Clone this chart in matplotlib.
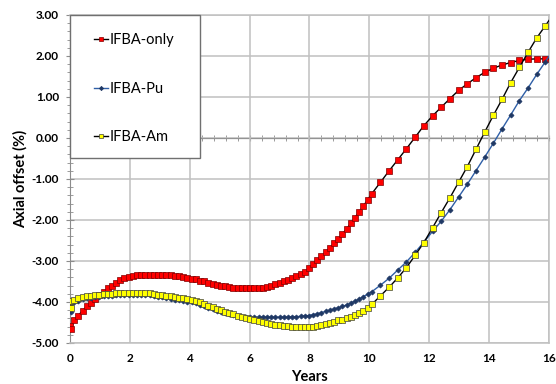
import matplotlib
matplotlib.use("Agg")
import matplotlib.pyplot as plt
from matplotlib.patches import Rectangle
from matplotlib.ticker import MultipleLocator, FormatStrFormatter

plt.rcParams['font.family'] = ['Lato', 'DejaVu Sans']

# burnup steps in years (fine steps up to ~10 y, coarse steps after)
years = [0.00, 0.04,
         0.14, 0.28, 0.42, 0.56, 0.70, 0.84, 0.98, 1.12, 1.26, 1.40,
         1.54, 1.68, 1.82, 1.96, 2.10, 2.24, 2.38, 2.52, 2.66, 2.80,
         2.94, 3.08, 3.22, 3.36, 3.50, 3.64, 3.78, 3.92, 4.06, 4.20,
         4.34, 4.48, 4.62, 4.76, 4.90, 5.04, 5.18, 5.32, 5.46, 5.60,
         5.74, 5.88, 6.02, 6.16, 6.30, 6.44, 6.58, 6.72, 6.86, 7.00,
         7.14, 7.28, 7.42, 7.56, 7.70, 7.84, 7.98, 8.12, 8.26, 8.40,
         8.54, 8.68, 8.82, 8.96, 9.10, 9.24, 9.38, 9.52, 9.66, 9.80,
         9.94, 10.08,
         10.37, 10.66, 10.95, 11.24, 11.53, 11.82, 12.11, 12.40, 12.69, 12.98,
         13.27, 13.56, 13.85, 14.14, 14.43, 14.72, 15.01, 15.30, 15.59, 15.88,
         16.17]

ifba_only = [-4.58, -4.66,
             -4.45, -4.33, -4.21, -4.11, -4.02, -3.92, -3.84, -3.75, -3.67, -3.60,
             -3.53, -3.47, -3.42, -3.39, -3.37, -3.35, -3.34, -3.33, -3.33, -3.33,
             -3.33, -3.33, -3.34, -3.34, -3.36, -3.37, -3.39, -3.41, -3.43, -3.45,
             -3.48, -3.50, -3.53, -3.55, -3.58, -3.60, -3.62, -3.64, -3.65, -3.66,
             -3.67, -3.67, -3.67, -3.67, -3.66, -3.65, -3.63, -3.60, -3.57, -3.54,
             -3.50, -3.47, -3.42, -3.37, -3.32, -3.26, -3.18, -3.08, -2.98, -2.88,
             -2.78, -2.68, -2.57, -2.46, -2.34, -2.22, -2.08, -1.94, -1.80, -1.66,
             -1.51, -1.36,
             -1.08, -0.80, -0.53, -0.26, 0.02, 0.30, 0.54, 0.75, 0.96, 1.16,
             1.32, 1.47, 1.60, 1.70, 1.78, 1.84, 1.89, 1.92, 1.93, 1.93,
             1.92]

ifba_pu = [-4.00, -4.24,
           -4.01, -3.97, -3.93, -3.91, -3.90, -3.89, -3.88, -3.86, -3.85, -3.85,
           -3.84, -3.83, -3.83, -3.82, -3.82, -3.82, -3.82, -3.83, -3.84, -3.85,
           -3.87, -3.88, -3.90, -3.92, -3.94, -3.96, -3.97, -3.99, -4.00, -4.03,
           -4.07, -4.10, -4.14, -4.17, -4.21, -4.24, -4.27, -4.30, -4.32, -4.34,
           -4.36, -4.37, -4.37, -4.37, -4.37, -4.37, -4.37, -4.37, -4.37, -4.37,
           -4.37, -4.37, -4.36, -4.36, -4.35, -4.34, -4.33, -4.31, -4.29, -4.26,
           -4.23, -4.20, -4.17, -4.14, -4.11, -4.07, -4.03, -3.98, -3.93, -3.87,
           -3.81, -3.75,
           -3.59, -3.42, -3.22, -3.02, -2.79, -2.54, -2.28, -2.03, -1.75, -1.44,
           -1.13, -0.80, -0.47, -0.13, 0.22, 0.56, 0.91, 1.22, 1.55, 1.86,
           2.18]

ifba_am = [-3.98, -4.15,
           -3.95, -3.91, -3.88, -3.86, -3.85, -3.84, -3.83, -3.81, -3.80, -3.80,
           -3.79, -3.78, -3.78, -3.77, -3.77, -3.77, -3.77, -3.78, -3.79, -3.80,
           -3.82, -3.83, -3.85, -3.86, -3.88, -3.90, -3.91, -3.93, -3.94, -3.97,
           -4.01, -4.05, -4.09, -4.13, -4.17, -4.20, -4.24, -4.27, -4.30, -4.34,
           -4.37, -4.40, -4.42, -4.45, -4.47, -4.50, -4.52, -4.54, -4.55, -4.57,
           -4.58, -4.59, -4.60, -4.61, -4.61, -4.61, -4.60, -4.60, -4.58, -4.56,
           -4.54, -4.51, -4.48, -4.45, -4.43, -4.40, -4.36, -4.31, -4.26, -4.21,
           -4.14, -4.06,
           -3.85, -3.64, -3.41, -3.16, -2.86, -2.55, -2.19, -1.82, -1.46, -1.08,
           -0.70, -0.28, 0.14, 0.55, 0.94, 1.35, 1.72, 2.09, 2.44, 2.74,
           3.04]

fig = plt.figure(figsize=(5.56, 3.84), dpi=100)
ax = fig.add_axes([0.1259, 0.1068, 0.8615, 0.8542])

grid_c = '#c0c0c0'
ax.set_xlim(0, 16)
ax.set_ylim(-5, 3)
ax.xaxis.set_major_locator(MultipleLocator(2))
ax.yaxis.set_major_locator(MultipleLocator(1))
ax.yaxis.set_minor_locator(MultipleLocator(0.2))
ax.yaxis.set_major_formatter(FormatStrFormatter('%.2f'))
ax.grid(True, which='major', color=grid_c, lw=1.1, zorder=0)
ax.set_axisbelow(True)
for s in ['top', 'right', 'bottom']:
    ax.spines[s].set_color(grid_c)
    ax.spines[s].set_linewidth(1.1)
ax.spines['left'].set_color('#8c8c8c')
ax.tick_params(axis='x', length=0, pad=7, labelsize=8.5)
ax.tick_params(axis='y', which='major', direction='inout', length=6,
               color='#8c8c8c', labelsize=8.5, pad=5)
ax.tick_params(axis='y', which='minor', direction='inout', length=4,
               color='#8c8c8c')
for lab in ax.get_xticklabels() + ax.get_yticklabels():
    lab.set_fontweight('bold')

# horizontal axis line crossing at zero
zero_ax = ax.secondary_xaxis(5 / 8)
zero_ax.xaxis.set_major_locator(MultipleLocator(2))
zero_ax.xaxis.set_minor_locator(MultipleLocator(0.4))
zero_ax.tick_params(which='both', direction='inout', length=4,
                    color='#8c8c8c', labelbottom=False, labeltop=False)
zero_ax.spines['bottom'].set_color('#8c8c8c')

ax.plot(years, ifba_only, color='black', lw=1, marker='s', ms=4,
        mfc='#ff0000', mec='#800000', mew=0.5, label='IFBA-only', zorder=3)
ax.plot(years, ifba_pu, color='#2f5fa7', lw=1, marker='D', ms=2.6,
        mfc='#1f3864', mec='#1f3864', mew=0.5, label='IFBA-Pu', zorder=3)
ax.plot(years, ifba_am, color='black', lw=1, marker='s', ms=4,
        mfc='#ffff00', mec='#404040', mew=0.5, label='IFBA-Am', zorder=3)

ax.set_xlabel('Years', fontsize=10.5, fontweight='bold', labelpad=4.5)
ax.set_ylabel('Axial offset (%)', fontsize=10.5, fontweight='bold', labelpad=3)

ax.add_patch(Rectangle((0, 0.564), 0.2714, 0.436, transform=ax.transAxes,
                       facecolor='white', edgecolor='#707070', lw=1,
                       zorder=5, clip_on=False))
leg = ax.legend(loc='upper left', bbox_to_anchor=(0.051, 0.944), frameon=False,
                borderpad=0, borderaxespad=0, handlelength=0.9,
                handletextpad=0.15, labelspacing=2.35, fontsize=10.5,
                markerscale=0.85)
leg.set_zorder(6)

fig.savefig('out.png', dpi=100)
